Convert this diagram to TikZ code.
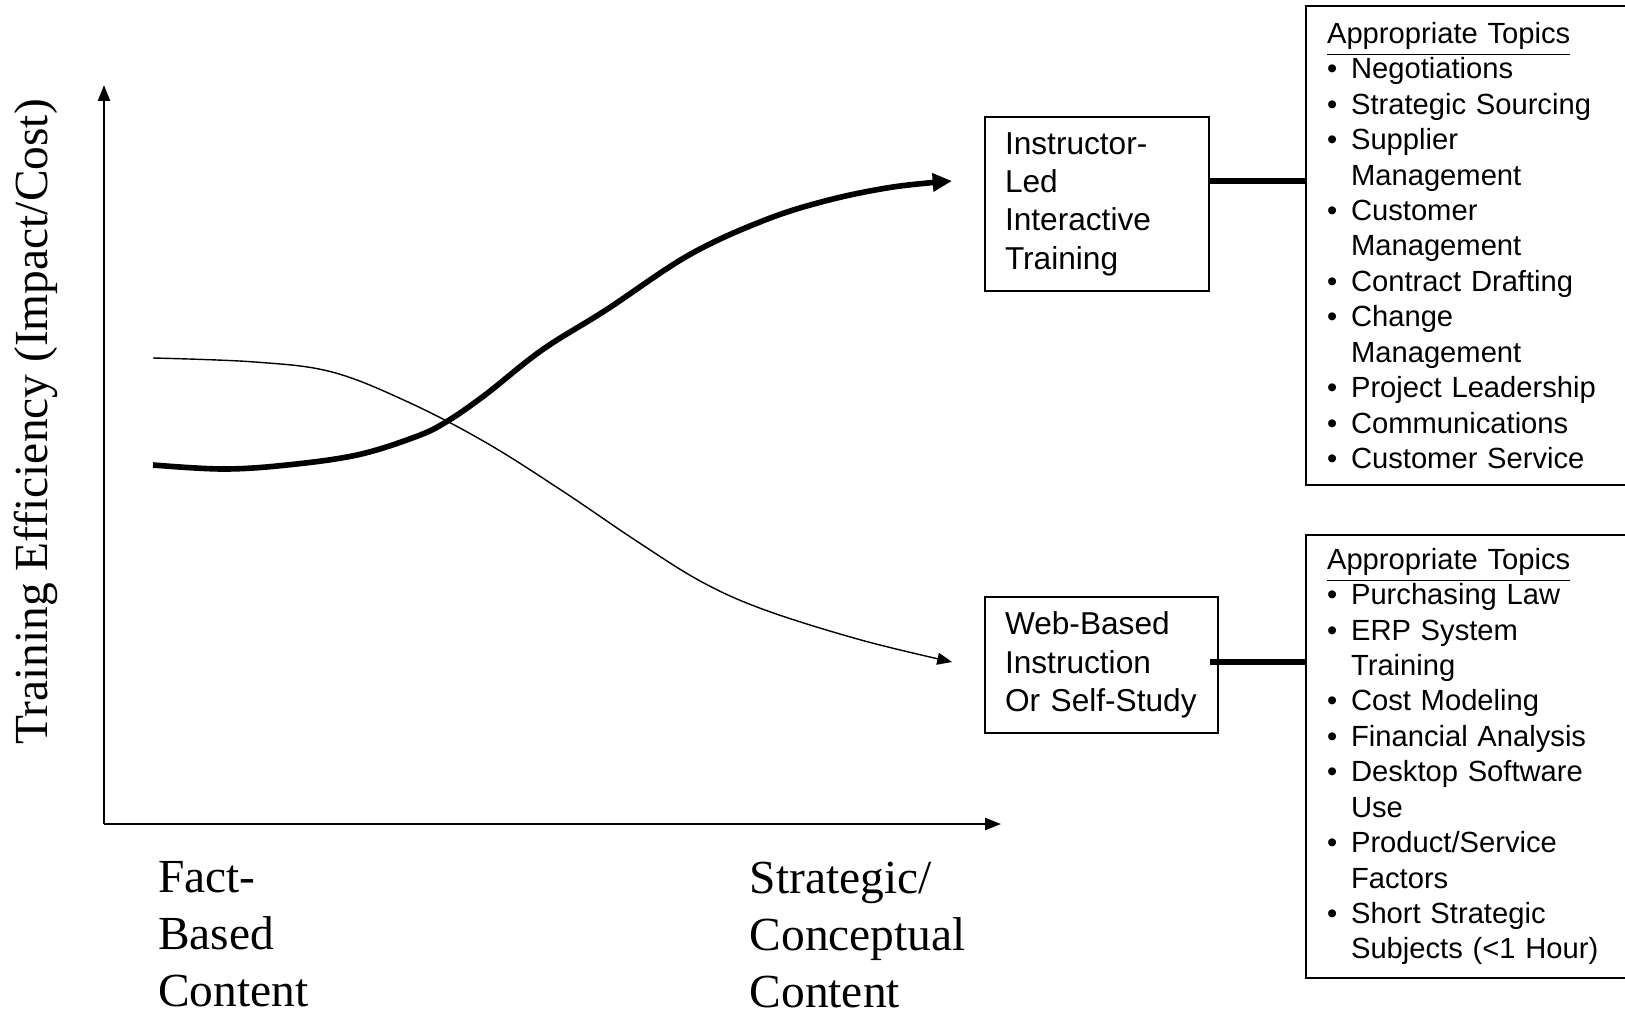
\documentclass[tikz,border=0pt]{standalone}
\usepackage{fontspec}
\setmainfont{Liberation Sans}
\newfontfamily\timesfont{Liberation Serif}
\usetikzlibrary{arrows.meta}

\newcommand{\itm}[1]{\makebox[0.24cm][l]{\textbullet}#1}
\newcommand{\cnt}[1]{\hspace*{0.24cm}#1}

\begin{document}
\begin{tikzpicture}[
    axis/.style={line width=0.6pt, -{Triangle[length=4.5pt,width=3.4pt]}},
    mode/.style={draw, line width=0.6pt, align=left, inner xsep=0.2cm,
      font=\fontsize{9}{10.9}\selectfont},
    topics/.style={draw, line width=0.6pt, align=left, anchor=north west,
      inner xsep=0.21cm, text width=3.3cm, font=\fontsize{8.3}{10.08}\selectfont},
    cat/.style={anchor=north west, align=left, inner sep=0pt,
      font=\timesfont\fontsize{13.5}{16.2}\selectfont}
  ]
  \useasboundingbox (0,0) rectangle (16.25,10.12);
  \clip (0,0) rectangle (16.25,10.12);

  % axes
  \coordinate (o) at (1.04,1.88);
  \coordinate (ytop) at (1.04,9.27);
  \coordinate (xend) at (10.01,1.88);
  \draw[axis] (o) -- (ytop);
  \draw[axis] (o) -- (xend);
  \node[rotate=90, font=\timesfont\fontsize{13.5}{16.2}\selectfont] (ylabel)
    at (0.36,5.90) {Training Efficiency (Impact/Cost)};
  \node[cat] (fact) at (1.575,1.51) {Fact-\\Based\\Content};
  \node[cat] (strat) at (7.49,1.51) {Strategic/\\Conceptual\\Content};

  % curves
  \coordinate (iltend) at (9.52,8.31);
  \coordinate (wbiend) at (9.52,3.50);
  \draw[line width=1.6pt, -{Triangle[length=5.5pt,width=5pt]}]
    plot[smooth, tension=0.6] coordinates {(1.53,5.47) (2.23,5.43) (2.87,5.47)
      (3.57,5.57) (4.15,5.75) (4.46,5.90) (4.85,6.17) (5.42,6.62) (6.06,7.02)
      (6.89,7.57) (7.65,7.92) (8.29,8.12) (8.93,8.25) (iltend)};
  \draw[line width=0.4pt, -{Triangle[length=4.2pt,width=3.4pt]}]
    plot[smooth, tension=0.6] coordinates {(1.53,6.54) (2.55,6.50) (3.32,6.40)
      (4.08,6.10) (4.85,5.70) (5.61,5.22) (6.38,4.70) (7.02,4.30) (7.65,4.02)
      (8.61,3.72) (wbiend)};

  % training modes
  \node[mode, text width=1.84cm, minimum height=1.74cm] (ilt) at (10.97,8.08)
    {Instructor-\\Led\\Interactive\\Training};
  \node[mode, text width=1.93cm, minimum height=1.36cm] (wbi) at (11.015,3.47)
    {Web-Based\\Instruction\\Or Self-Study};

  % topic lists
  \node[topics, minimum height=4.79cm] (ilttopics) at (13.05,10.07)
    {\underline{Appropriate Topics}\\
     \itm{Negotiations}\\
     \itm{Strategic Sourcing}\\
     \itm{Supplier}\\
     \cnt{Management}\\
     \itm{Customer}\\
     \cnt{Management}\\
     \itm{Contract Drafting}\\
     \itm{Change}\\
     \cnt{Management}\\
     \itm{Project Leadership}\\
     \itm{Communications}\\
     \itm{Customer Service}};
  \node[topics, minimum height=4.43cm] (wbitopics) at (13.05,4.78)
    {\underline{Appropriate Topics}\\
     \itm{Purchasing Law}\\
     \itm{ERP System}\\
     \cnt{Training}\\
     \itm{Cost Modeling}\\
     \itm{Financial Analysis}\\
     \itm{Desktop Software}\\
     \cnt{Use}\\
     \itm{Product/Service}\\
     \cnt{Factors}\\
     \itm{Short Strategic}\\
     \cnt{Subjects (<1 Hour)}};

  \begin{scope}[line width=1.8pt]
    \draw (ilt.east |- iltend) -- (ilttopics.west |- iltend);
    \draw ([xshift=-0.09cm]wbi.east |- wbiend) -- (wbitopics.west |- wbiend);
  \end{scope}
\end{tikzpicture}
\end{document}
